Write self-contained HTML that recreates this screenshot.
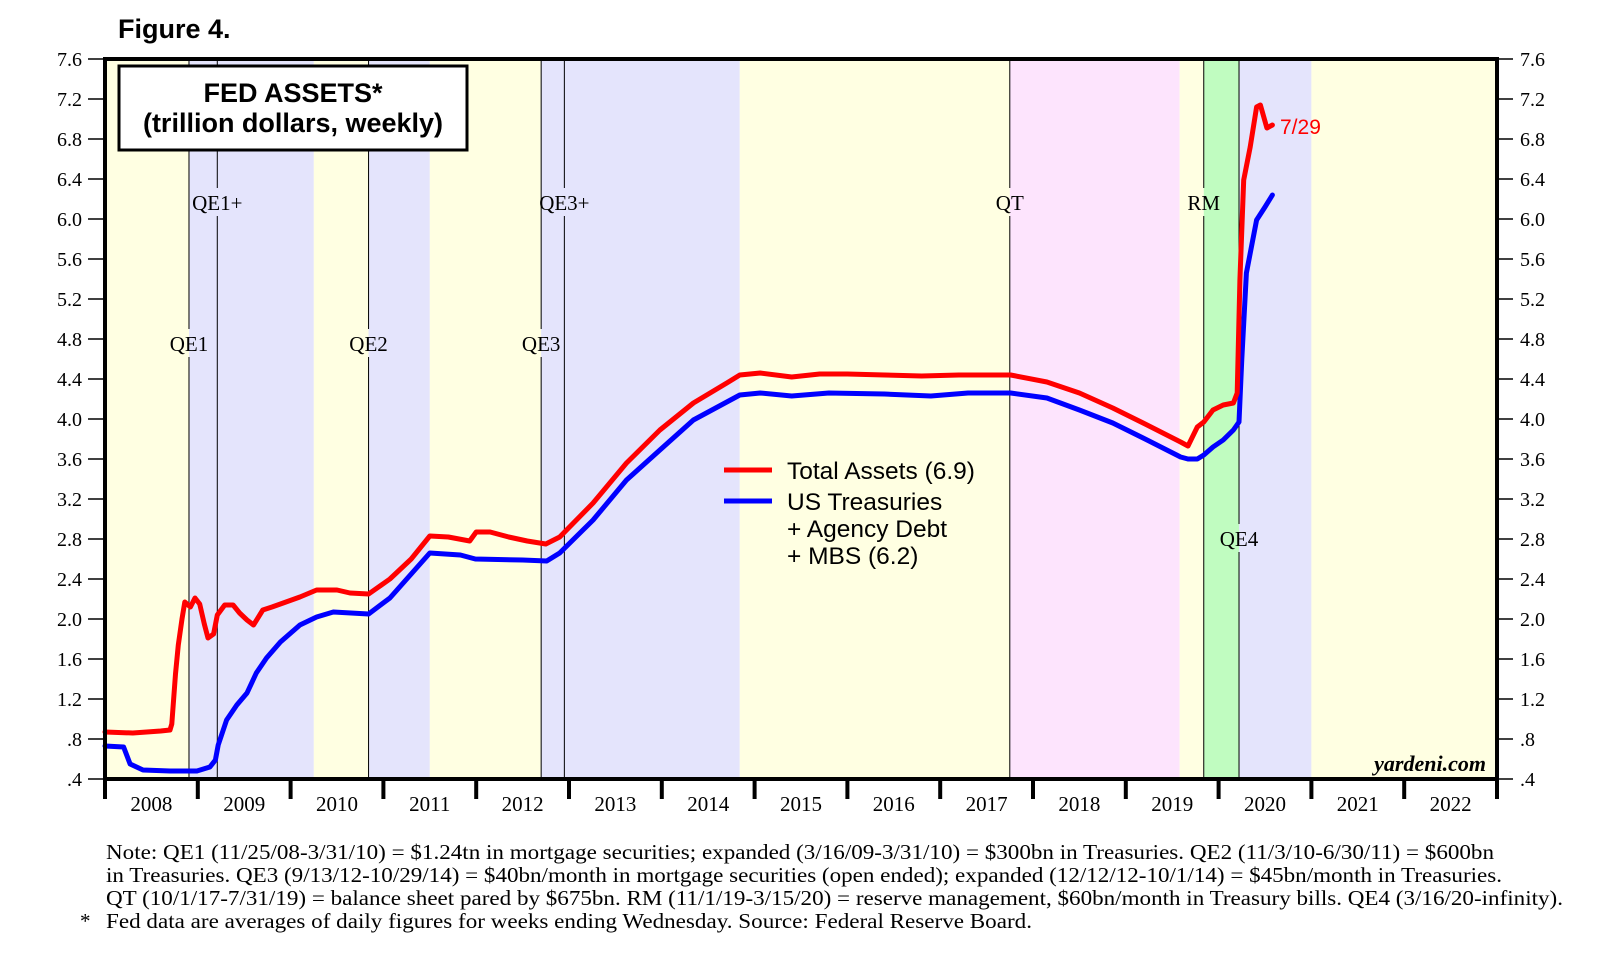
<!DOCTYPE html>
<html><head><meta charset="utf-8"><style>
body{margin:0;background:#fff;width:1610px;height:968px;overflow:hidden}
svg{display:block}
.ser{font-family:"Liberation Serif",serif}
.san{font-family:"Liberation Sans",sans-serif}
</style></head><body>
<svg id="c" width="1610" height="968" xmlns="http://www.w3.org/2000/svg">
<g id="bands"></g><g id="vlines"></g><g id="grid"></g><g id="series"></g><g id="axes"></g>
<text x="118" y="38" class="san" font-size="27" font-weight="bold">Figure 4.</text>
<g>
<rect x="119" y="66" width="348" height="84" fill="#fff" stroke="#000" stroke-width="3"/>
<text x="293" y="102" text-anchor="middle" class="san" font-size="27" font-weight="bold">FED ASSETS*</text>
<text x="293" y="132" text-anchor="middle" class="san" font-size="27" font-weight="bold">(trillion dollars, weekly)</text>
</g>
<g>
<line x1="724" y1="470" x2="772" y2="470" stroke="#ff0000" stroke-width="5"/>
<line x1="724" y1="501" x2="772" y2="501" stroke="#0000ff" stroke-width="5"/>
<text x="787" y="479" class="san" font-size="24.5">Total Assets (6.9)</text>
<text class="san" font-size="24.5"><tspan x="787" y="510">US Treasuries</tspan><tspan x="787" y="537">+ Agency Debt</tspan><tspan x="787" y="564">+ MBS (6.2)</tspan></text>
</g>
<text x="1280" y="134" class="san" font-size="21" fill="#ff0000">7/29</text>
<text x="1486" y="771" text-anchor="end" class="ser" font-size="22" font-weight="bold" font-style="italic">yardeni.com</text>
<g class="ser" font-size="21">
<text x="106" y="859" textLength="1388" lengthAdjust="spacingAndGlyphs">Note: QE1 (11/25/08-3/31/10) = $1.24tn in mortgage securities; expanded (3/16/09-3/31/10) = $300bn in Treasuries. QE2 (11/3/10-6/30/11) = $600bn</text>
<text x="106" y="882" textLength="1396" lengthAdjust="spacingAndGlyphs">in Treasuries. QE3 (9/13/12-10/29/14) = $40bn/month in mortgage securities (open ended); expanded (12/12/12-10/1/14) = $45bn/month in Treasuries.</text>
<text x="106" y="905" textLength="1457" lengthAdjust="spacingAndGlyphs">QT (10/1/17-7/31/19) = balance sheet pared by $675bn. RM (11/1/19-3/15/20) = reserve management, $60bn/month in Treasury bills. QE4 (3/16/20-infinity).</text>
<text x="80" y="928">*</text>
<text x="106" y="928" textLength="926" lengthAdjust="spacingAndGlyphs">Fed data are averages of daily figures for weeks ending Wednesday. Source: Federal Reserve Board.</text>
</g>
</svg>
<script>
const years=[2008,2009,2010,2011,2012,2013,2014,2015,2016,2017,2018,2019,2020,2021,2022];
const yTicks=[0.4,0.8,1.2,1.6,2.0,2.4,2.8,3.2,3.6,4.0,4.4,4.8,5.2,5.6,6.0,6.4,6.8,7.2,7.6];
const yTickLabels=[".4",".8","1.2","1.6","2.0","2.4","2.8","3.2","3.6","4.0","4.4","4.8","5.2","5.6","6.0","6.4","6.8","7.2","7.6"];
const bandStarts=[2008.0,2008.905,2010.25,2010.84,2011.5,2012.7,2014.84,2017.75,2019.58,2019.84,2020.22,2021.0];
const bandEnds=[2008.905,2010.25,2010.84,2011.5,2012.7,2014.84,2017.75,2019.58,2019.84,2020.22,2021.0,2023.0];
const bandColors=["#ffffe2","#e4e4fc","#ffffe2","#e4e4fc","#ffffe2","#e4e4fc","#ffffe2","#fde4fd","#ffffe2","#c0fcc0","#e4e4fc","#ffffe2"];
const eventNames=["QE1","QE1+","QE2","QE3","QE3+","QT","RM","QE4"];
const eventDates=[2008.905,2009.21,2010.84,2012.7,2012.95,2017.75,2019.84,2020.22];
const eventLabelVals=[4.75,6.16,4.75,4.75,6.16,6.16,6.16,2.8];
const totalX=[2008.0,2008.3,2008.6,2008.7,2008.72,2008.76,2008.79,2008.83,2008.86,2008.92,2008.97,2009.02,2009.07,2009.11,2009.17,2009.21,2009.29,2009.38,2009.45,2009.53,2009.6,2009.7,2009.8,2009.92,2010.1,2010.28,2010.5,2010.64,2010.84,2011.07,2011.3,2011.5,2011.7,2011.93,2012.0,2012.15,2012.35,2012.55,2012.75,2012.9,2013.26,2013.62,2013.98,2014.34,2014.7,2014.84,2015.06,2015.4,2015.7,2016.0,2016.4,2016.8,2017.2,2017.76,2018.15,2018.5,2018.86,2019.23,2019.59,2019.67,2019.77,2019.84,2019.94,2020.05,2020.16,2020.2,2020.23,2020.27,2020.34,2020.41,2020.45,2020.52,2020.58];
const totalV=[0.87,0.86,0.88,0.89,0.95,1.45,1.74,2.0,2.17,2.12,2.21,2.15,1.95,1.81,1.85,2.04,2.14,2.14,2.06,1.99,1.94,2.09,2.12,2.16,2.22,2.29,2.29,2.26,2.25,2.4,2.6,2.83,2.82,2.78,2.87,2.87,2.82,2.78,2.75,2.82,3.16,3.56,3.89,4.16,4.36,4.44,4.46,4.42,4.45,4.45,4.44,4.43,4.44,4.44,4.37,4.26,4.11,3.94,3.77,3.73,3.92,3.97,4.09,4.14,4.16,4.26,5.39,6.39,6.72,7.12,7.14,6.91,6.94];
const secX=[2008.0,2008.2,2008.27,2008.41,2008.7,2008.99,2009.13,2009.19,2009.22,2009.31,2009.42,2009.53,2009.63,2009.74,2009.89,2010.1,2010.28,2010.46,2010.84,2011.07,2011.5,2011.83,2011.99,2012.5,2012.76,2012.9,2013.26,2013.62,2013.98,2014.34,2014.7,2014.84,2015.06,2015.4,2015.8,2016.4,2016.9,2017.3,2017.76,2018.15,2018.5,2018.86,2019.23,2019.59,2019.67,2019.77,2019.84,2019.94,2020.05,2020.16,2020.22,2020.25,2020.3,2020.41,2020.5,2020.58];
const secV=[0.73,0.72,0.55,0.49,0.48,0.48,0.52,0.59,0.74,0.99,1.14,1.26,1.46,1.61,1.77,1.94,2.02,2.07,2.05,2.21,2.66,2.64,2.6,2.59,2.58,2.66,2.99,3.39,3.69,3.99,4.17,4.24,4.26,4.23,4.26,4.25,4.23,4.26,4.26,4.21,4.09,3.96,3.79,3.62,3.6,3.6,3.64,3.72,3.79,3.89,3.97,4.6,5.46,5.99,6.12,6.24];

const L=105,R=1497,T=59,B=779;
const xs=t=>L+(t-2008)*(R-L)/15;
const ys=v=>B-(v-0.4)*(B-T)/7.2;
const NS="http://www.w3.org/2000/svg";
function mk(tag,parent,attrs){const e=document.createElementNS(NS,tag);for(const k in attrs)e.setAttribute(k,attrs[k]);parent.appendChild(e);return e;}
const gB=document.getElementById('bands'),gV=document.getElementById('vlines'),gS=document.getElementById('series'),gA=document.getElementById('axes');
bandStarts.forEach((s,i)=>{
  const r=mk('rect',gB,{x:xs(s),y:T,width:Math.min(xs(bandEnds[i]),R)-xs(s),height:B-T,fill:bandColors[i]});
  
  
});
eventDates.forEach((d,i)=>{
  const x=xs(d),ly=ys(eventLabelVals[i]);
  const l1=mk('line',gV,{x1:x,y1:T,x2:x,y2:ly-15,stroke:'#000','stroke-width':1});
  
  
  const l2=mk('line',gV,{x1:x,y1:ly+13,x2:x,y2:B,stroke:'#000','stroke-width':1});
  
  
  const t=mk('text',gV,{x:x,y:ly+7,'text-anchor':'middle','font-size':21,'font-family':'Liberation Serif, serif'});
  t.textContent=eventNames[i];
  
  
});
function path(X,V,color,name){
  const d=X.map((t,i)=>(i?'L':'M')+xs(t).toFixed(1)+','+ys(V[i]).toFixed(1)).join('');
  const p=mk('path',gS,{d:d,fill:'none',stroke:color,'stroke-width':5,'stroke-linejoin':'round','stroke-linecap':'round'});
  
  
}
path(secX,secV,'#0000ff','securities-line');
path(totalX,totalV,'#ff0000','total-assets-line');
const fr=mk('rect',gA,{x:L,y:T,width:R-L,height:B-T,fill:'none',stroke:'#000','stroke-width':4});


yTicks.forEach((v,i)=>{
  const y=ys(v);
  mk('line',gA,{x1:L-17,y1:y,x2:L,y2:y,stroke:'#000','stroke-width':1.5});
  mk('line',gA,{x1:R,y1:y,x2:R+16,y2:y,stroke:'#000','stroke-width':1.5});
  const a=mk('text',gA,{x:82,y:y+7,'text-anchor':'end','font-size':20,'font-family':'Liberation Serif, serif'});
  a.textContent=yTickLabels[i];
  
  
  const b=mk('text',gA,{x:1520,y:y+7,'font-size':20,'font-family':'Liberation Serif, serif'});
  b.textContent=yTickLabels[i];
  
  
});
for(let i=0;i<=years.length;i++){
  const x=xs(2008+i);
  mk('line',gA,{x1:x,y1:B,x2:x,y2:799,stroke:'#000','stroke-width':4});
}
years.forEach(yv=>{
  const t=mk('text',gA,{x:xs(yv+0.5),y:811,'text-anchor':'middle','font-size':21,'font-family':'Liberation Serif, serif'});
  t.textContent=yv;
  
  
});
</script>
</body></html>
